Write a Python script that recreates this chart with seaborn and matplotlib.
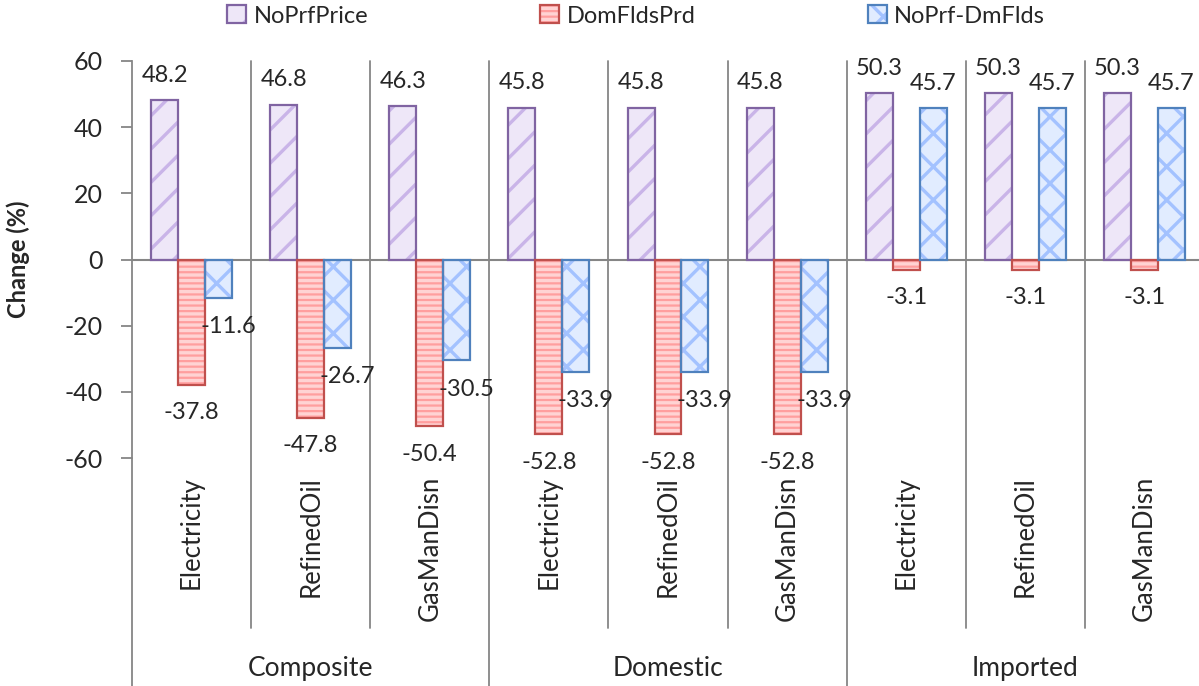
import matplotlib
matplotlib.use("Agg")
import matplotlib.pyplot as plt
import pandas as pd
import seaborn as sns
from matplotlib.patches import Patch, Rectangle
from matplotlib.legend_handler import HandlerTuple

grupos = ["Composite", "Domestic", "Imported"]
subcategorias = ["Electricity", "RefinedOil", "GasManDisn"]
series = ["NoPrfPrice", "DomFldsPrd", "NoPrf-DmFlds"]

noprf_price = [48.2, 46.8, 46.3, 45.8, 45.8, 45.8, 50.3, 50.3, 50.3]
dom_flds_prd = [-37.8, -47.8, -50.4, -52.8, -52.8, -52.8, -3.1, -3.1, -3.1]
noprf_dmflds = [-11.6, -26.7, -30.5, -33.9, -33.9, -33.9, 45.7, 45.7, 45.7]

yticks = [-60, -40, -20, 0, 20, 40, 60]

# estilos: relleno, trama, color de trama, borde
estilos = {
    "NoPrfPrice": ("#EEE7F8", "/", "#C9B4E8", "#8064A2"),
    "DomFldsPrd": ("#FF9E9E", "---", "#FFD3D3", "#C0504D"),
    "NoPrf-DmFlds": ("#E1ECFF", "x", "#A3C2FF", "#4F81BD"),
}

sns.set_theme(style="white")
plt.rcParams["font.family"] = ["Lato", "DejaVu Sans"]
plt.rcParams["hatch.linewidth"] = 2.4

claves = [f"{g}|{s}" for g in grupos for s in subcategorias]
df = pd.DataFrame({
    "cat": claves * 3,
    "serie": [s for s in series for _ in claves],
    "valor": noprf_price + dom_flds_prd + noprf_dmflds,
})

fig = plt.figure(figsize=(11.99, 6.86), dpi=100)
ax = fig.add_axes([132 / 1199, 1 - 458 / 686, 1072 / 1199, 397 / 686])

sns.barplot(data=df, x="cat", y="valor", hue="serie", order=claves,
            hue_order=series, width=0.68, errorbar=None, legend=False, ax=ax)

gris = "#868686"
fs_lbl = 17
for i, serie in enumerate(series):
    relleno, trama, c_trama, borde = estilos[serie]
    for bar in ax.containers[i]:
        bar.set_facecolor(relleno)
        bar.set_hatch(trama)
        bar.set_edgecolor(c_trama)
        bar.set_linewidth(0)
        x0, y0 = bar.get_xy()
        ax.add_patch(Rectangle((x0, y0), bar.get_width(), bar.get_height(),
                               fill=False, edgecolor=borde, linewidth=1.6, zorder=3))
        v = bar.get_height()
        cx = x0 + bar.get_width() / 2
        if v >= 0:
            ax.annotate(f"{v:.1f}", (cx, v), xytext=(0, 25), textcoords="offset pixels",
                        ha="center", va="center", fontsize=fs_lbl, annotation_clip=False)
        elif serie == "NoPrf-DmFlds":
            ax.annotate(f"{v:.1f}", (cx, v), xytext=(10, -29), textcoords="offset pixels",
                        ha="center", va="center", fontsize=fs_lbl, annotation_clip=False)
        else:
            ax.annotate(f"{v:.1f}", (cx, v), xytext=(0, -28), textcoords="offset pixels",
                        ha="center", va="center", fontsize=fs_lbl, annotation_clip=False)

ax.set_xlim(-0.5, 8.5)
ax.set_ylim(-60, 60)
ax.set_yticks(yticks)
ax.set_yticklabels([str(t) for t in yticks], fontsize=18)
ax.tick_params(axis="y", left=True, length=8, width=1.3, color=gris, pad=13)
ax.set_xticks([])
ax.set_xlabel("")
ax.set_ylabel("")
for lado in ["top", "right", "bottom"]:
    ax.spines[lado].set_visible(False)
ax.spines["left"].set_color(gris)
ax.spines["left"].set_linewidth(1.3)
ax.axhline(0, color=gris, linewidth=1.5, zorder=2)

# separadores del eje de categorias
trans = ax.get_xaxis_transform()
for k in range(1, 9):
    x = k - 0.5
    fondo = -0.574 if k % 3 == 0 else -0.428
    ax.plot([x, x], [1.0, fondo], color=gris, linewidth=1.3,
            transform=trans, clip_on=False, zorder=1)
ax.plot([-0.5, -0.5], [0, -0.574], color=gris, linewidth=1.3,
        transform=trans, clip_on=False)

for k, clave in enumerate(claves):
    ax.text(k, -0.045, clave.split("|")[1], rotation=90, ha="center", va="top",
            fontsize=18.5, transform=trans)
for j, g in enumerate(grupos):
    ax.text(3 * j + 1, -0.529, g, ha="center", va="center", fontsize=19, transform=trans)

fig.text(18 / 1199, 1 - 259.5 / 686, "Change (%)", rotation=90, ha="center",
         va="center", fontsize=17, fontweight="bold")

manejadores = []
for serie in series:
    relleno, trama, c_trama, borde = estilos[serie]
    manejadores.append((Patch(facecolor=relleno, hatch=trama, edgecolor=c_trama, linewidth=0),
                        Patch(facecolor="none", edgecolor=borde, linewidth=1.6)))
fig.legend(manejadores, series, loc="center", bbox_to_anchor=(636 / 1199, 1 - 16 / 686),
           ncol=3, frameon=False, fontsize=17, handlelength=0.8, handleheight=0.8,
           handletextpad=0.3, columnspacing=7.3,
           handler_map={tuple: HandlerTuple(ndivide=1, pad=0)})

fig.savefig("out.png", dpi=100)
